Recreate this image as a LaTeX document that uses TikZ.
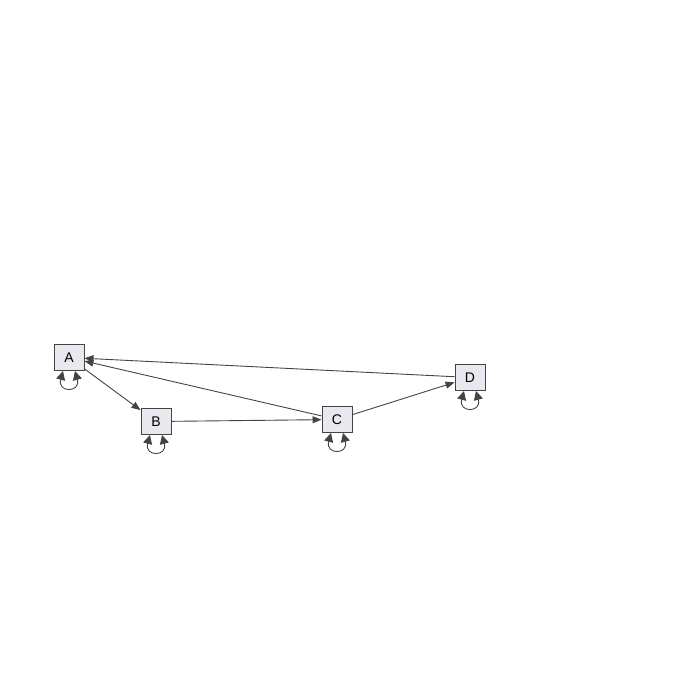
\documentclass[tikz,border=0pt]{standalone}
\usepackage{fontspec}
\setmainfont{Liberation Sans}
\usetikzlibrary{arrows.meta}
\definecolor{boxfill}{HTML}{E8E8EE}
\definecolor{edgegray}{HTML}{444444}
\tikzset{
  vbox/.style={draw=edgegray,fill=boxfill,line width=0.9pt,minimum width=30pt,minimum height=26pt,inner sep=0pt,font=\fontsize{14}{16}\selectfont},
  edge/.style={draw=edgegray,line width=0.9pt,-{Triangle[length=9pt,width=7pt]}},
  selfloop/.style={draw=edgegray,line width=0.9pt,{Triangle[length=9pt,width=9pt]}-{Triangle[length=9pt,width=9pt]}}
}
\begin{document}
\begin{tikzpicture}[x=1pt,y=-1pt]
\useasboundingbox (0,0) rectangle (673,693);
\node[vbox](a) at (69,357.5){A};
\node[vbox](b) at (156,421.5){B};
\node[vbox](c) at (337,419.5){C};
\node[vbox](d) at (470,377.5){D};
\draw[edge](a) -- (b);
\draw[edge](b) -- (c);
\draw[edge](c) -- (a);
\draw[edge](c) -- (d);
\draw[edge](d) -- (a);
\foreach \v in {a,b,c,d}
  \draw[selfloop]([xshift=-6pt]\v.south) .. controls +(-6,22) and +(6,22) .. ([xshift=6pt]\v.south);
\end{tikzpicture}
\end{document}
